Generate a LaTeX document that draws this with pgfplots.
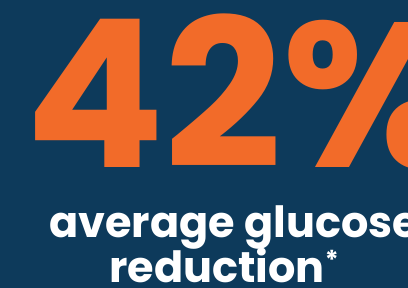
\documentclass[border=0pt]{standalone}
\usepackage{pgfplots}
\pgfplotsset{compat=1.18}
\usepackage{fontspec}
\setmainfont{Poppins}
\definecolor{navy}{HTML}{0D3A5B}
\definecolor{orng}{HTML}{F26B29}
\begin{document}
\begin{tikzpicture}
\begin{scope}
\clip (0,0) rectangle (408pt,288pt);
\begin{axis}[at={(0,0)},anchor=south west, scale only axis, width=408pt, height=288pt,
  xmin=0,xmax=408,ymin=0,ymax=288, hide axis, clip=false]
\fill[navy] (axis cs:-5,-5) rectangle (axis cs:413,293);
\node[anchor=base west, inner sep=0, text=orng, font=\fontsize{206}{206}\selectfont\bfseries] at (axis cs:25,120) {42\%};
\node[anchor=base west, inner sep=0, text=white, font=\fontsize{43}{46}\selectfont\bfseries] at (axis cs:49,50) {average glucose};
\node[anchor=base, inner sep=0, text=white, font=\fontsize{43}{46}\selectfont\bfseries] at (axis cs:224,5) {reduction\raisebox{0.55ex}{\fontsize{26}{26}\selectfont*}};
\end{axis}
\end{scope}
\pgfresetboundingbox
\path[use as bounding box] (0,0) rectangle (408pt,288pt);
\end{tikzpicture}
\end{document}
